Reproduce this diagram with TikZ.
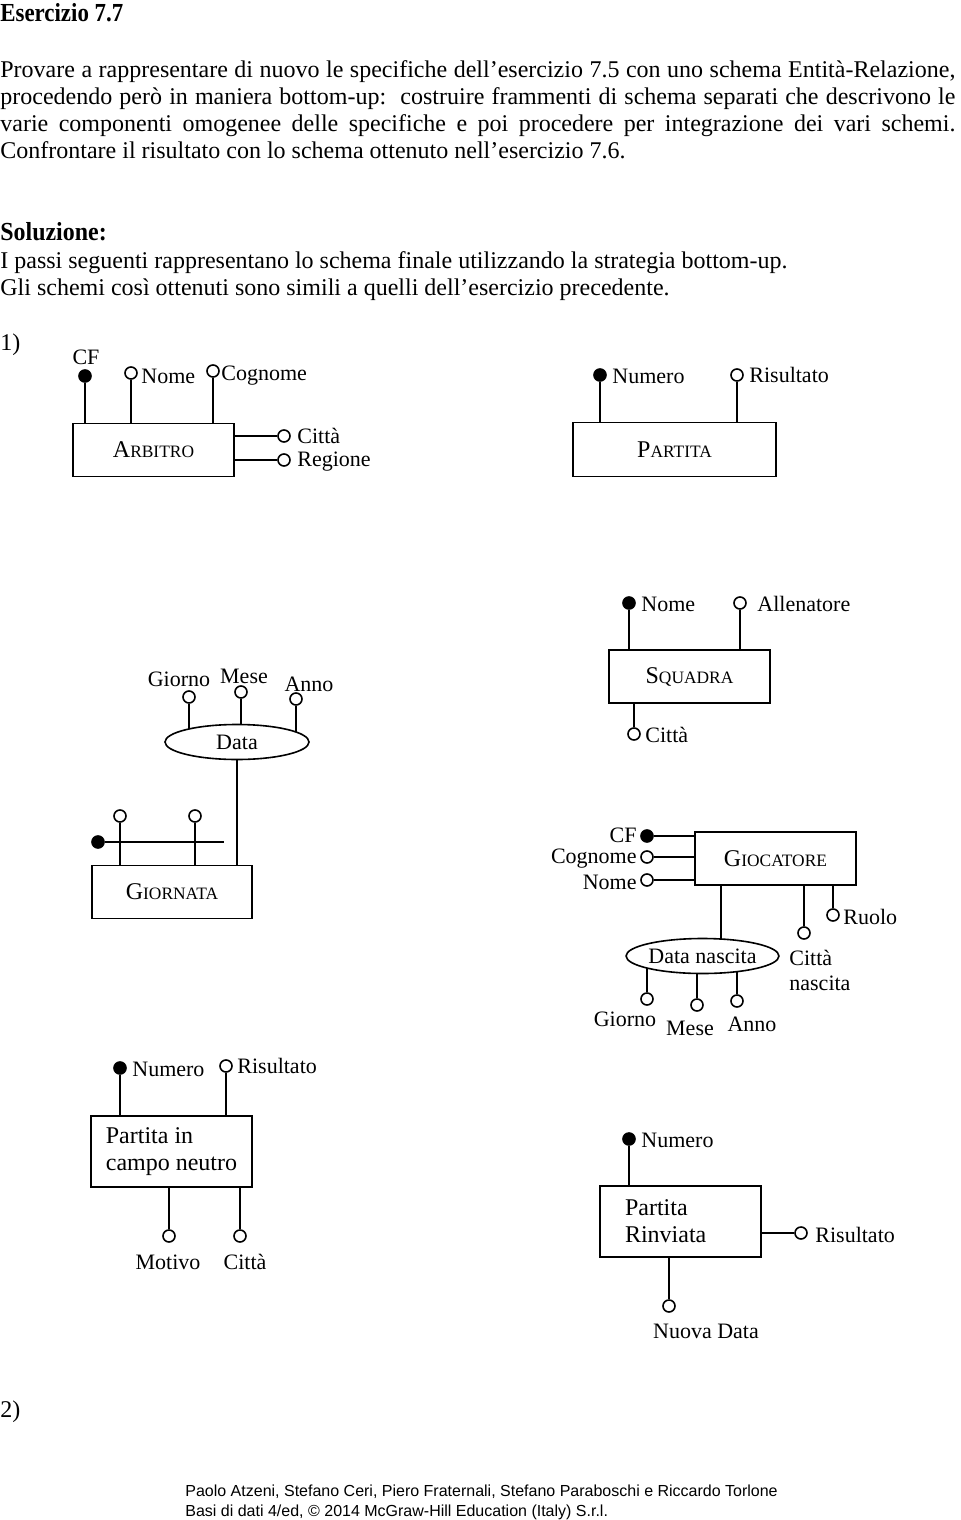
\documentclass[tikz,border=0pt]{standalone}
\usepackage{fontspec}
\setmainfont{Liberation Serif}
\setsansfont{Liberation Sans}
\usetikzlibrary{backgrounds, shapes.geometric}

\newcommand{\ent}[2]{{\fontsize{12}{14}\selectfont #1}{\fontsize{8.7}{10}\selectfont #2}}

\tikzset{
  entity/.style={draw, line width=0.8pt, fill=white, minimum width=80.5pt, minimum height=26.5pt, inner sep=0pt},
  composto/.style={ellipse, draw, line width=0.8pt, fill=white, minimum height=17.5pt, inner sep=0pt},
  attr/.style={circle, draw, line width=0.8pt, fill=white, minimum size=6pt, inner sep=0pt},
  key/.style={attr, fill=black},
  lbl/.style={inner sep=0pt},
  link/.style={line width=0.8pt},
  txt/.style={inner sep=0pt, font=\fontsize{12}{13.5}\selectfont},
}

\begin{document}
\begin{tikzpicture}[x=0.5pt, y=-0.5pt, font=\fontsize{11}{13.5}\selectfont]
  \begin{pgfonlayer}{background}
    \fill[white] (0,0) rectangle (960,1520);
  \end{pgfonlayer}
  \useasboundingbox (0,0) rectangle (960,1520);

  \node[txt, anchor=base west, font=\fontsize{13}{15}\bfseries\addfontfeatures{FakeStretch=0.88}] (titolo) at (0,22) {Esercizio 7.7};
  \node[txt, anchor=north west, text width=477.5pt, align=justify] (consegna) at (0,60)
    {Provare a rappresentare di nuovo le specifiche dell'esercizio 7.5 con uno schema Entità-Relazione,\linebreak
     procedendo però in maniera bottom-up:\ \ costruire frammenti di schema separati che descrivono le\linebreak
     varie componenti omogenee delle specifiche e poi procedere per integrazione dei vari schemi.\linebreak
     Confrontare il risultato con lo schema ottenuto nell'esercizio 7.6.};
  \node[txt, anchor=base west, font=\fontsize{13}{15}\bfseries\addfontfeatures{FakeStretch=0.92}] (soluzione) at (0,240) {Soluzione:};
  \node[txt, anchor=base west] (passi1) at (0,268) {I passi seguenti rappresentano lo schema finale utilizzando la strategia bottom-up.};
  \node[txt, anchor=base west] (passi2) at (0,295) {Gli schemi così ottenuti sono simili a quelli dell'esercizio precedente.};
  \node[txt, anchor=base west] (passo1) at (0,350) {1)};

  % arbitro
  \node[entity] (arbitro) at (153.5,450) {\ent{A}{RBITRO}};
  \node[key] (a_cf) at (85,376) {};
  \node[lbl] (a_cf_l) at (86,357) {CF};
  \node[attr] (a_nome) at (131,373) {};
  \node[lbl, anchor=west] (a_nome_l) at (141,376) {Nome};
  \node[attr] (a_cogn) at (213,371) {};
  \node[lbl, anchor=west] (a_cogn_l) at (221,376) {Cognome};
  \node[attr] (a_citta) at (284,436) {};
  \node[lbl, anchor=west] (a_citta_l) at (297,436) {Città};
  \node[attr] (a_reg) at (284,460) {};
  \node[lbl, anchor=west] (a_reg_l) at (297,462) {Regione};
  \foreach \a in {a_cf, a_nome, a_cogn}
    \draw[link] (\a) -- (\a |- arbitro.north);
  \foreach \a in {a_citta, a_reg}
    \draw[link] (\a) -- (\a -| arbitro.east);

  % partita
  \node[entity, minimum width=101.5pt, minimum height=27pt] (partita) at (674.5,449.5) {\ent{P}{ARTITA}};
  \node[key] (p_num) at (600,375) {};
  \node[lbl, anchor=west] (p_num_l) at (612,376) {Numero};
  \node[attr] (p_ris) at (737,375) {};
  \node[lbl, anchor=west] (p_ris_l) at (749,375) {Risultato};
  \foreach \a in {p_num, p_ris}
    \draw[link] (\a) -- (\a |- partita.north);

  % squadra
  \node[entity] (squadra) at (689.5,676.5) {\ent{S}{QUADRA}};
  \node[key] (s_nome) at (629,603) {};
  \node[lbl, anchor=west] (s_nome_l) at (641,604) {Nome};
  \node[attr] (s_all) at (740,603) {};
  \node[lbl, anchor=west] (s_all_l) at (757,604) {Allenatore};
  \node[attr] (s_citta) at (634,734) {};
  \node[lbl, anchor=west] (s_citta_l) at (645,735) {Città};
  \foreach \a in {s_nome, s_all}
    \draw[link] (\a) -- (\a |- squadra.north);
  \draw[link] (s_citta) -- (s_citta |- squadra.south);

  % data e giornata
  \node[entity, minimum width=80pt] (giornata) at (172,892) {\ent{G}{IORNATA}};
  \node[composto, minimum width=72pt] (data) at (237,742) {Data};
  \node[attr] (d_g) at (189,697) {};
  \node[lbl] (d_g_l) at (179,679) {Giorno};
  \node[attr] (d_m) at (241,692) {};
  \node[lbl] (d_m_l) at (244,676) {Mese};
  \node[attr] (d_a) at (296,699) {};
  \node[lbl] (d_a_l) at (309,684) {Anno};
  \begin{pgfonlayer}{background}
    \foreach \a in {d_g, d_m, d_a}
      \draw[link] (\a) -- (\a |- data.center);
  \end{pgfonlayer}
  \draw[link] (data) -- (data |- giornata.north);

  \node[attr] (g_a1) at (120,816) {};
  \node[attr] (g_a2) at (195,816) {};
  \node[key] (g_id) at (98,842) {};
  \coordinate (g_idfine) at (224,842);
  \draw[link] (g_id) -- (g_idfine);
  \foreach \a in {g_a1, g_a2}
    \draw[link] (\a) -- (\a |- giornata.north);

  % giocatore
  \node[entity] (giocatore) at (775.5,858.5) {\ent{G}{IOCATORE}};
  \node[key] (gc_cf) at (647,836) {};
  \node[lbl, anchor=east] (gc_cf_l) at (637,835) {CF};
  \node[attr] (gc_cog) at (647,857) {};
  \node[lbl, anchor=east] (gc_cog_l) at (637,859) {Cognome};
  \node[attr] (gc_nome) at (647,880) {};
  \node[lbl, anchor=east] (gc_nome_l) at (637,882) {Nome};
  \foreach \a in {gc_cf, gc_cog, gc_nome}
    \draw[link] (\a) -- (\a -| giocatore.west);

  \node[composto, minimum width=70.5pt] (dnascita) at (702.5,956) {Data nascita};
  \coordinate (gc_dn) at (721,885);
  \node[attr] (gc_cn) at (804,933) {};
  \node[lbl, anchor=north west, align=left, font=\fontsize{11}{12.5}\selectfont] (gc_cn_l) at (789,950) {Città\\nascita};
  \node[attr] (gc_ruolo) at (833,915) {};
  \node[lbl, anchor=west] (gc_ruolo_l) at (843,917) {Ruolo};
  \foreach \a in {gc_cn, gc_ruolo}
    \draw[link] (\a) -- (\a |- giocatore.south);

  \node[attr] (dn_g) at (647,999) {};
  \node[lbl] (dn_g_l) at (625,1019) {Giorno};
  \node[attr] (dn_m) at (697,1005) {};
  \node[lbl] (dn_m_l) at (690,1028) {Mese};
  \node[attr] (dn_a) at (737,1001) {};
  \node[lbl] (dn_a_l) at (752,1024) {Anno};
  \begin{pgfonlayer}{background}
    \draw[link] (gc_dn) -- (gc_dn |- dnascita.center);
    \foreach \a in {dn_g, dn_m, dn_a}
      \draw[link] (\a) -- (\a |- dnascita.center);
  \end{pgfonlayer}

  % partita in campo neutro
  \node[entity, minimum height=35.5pt, align=left, font=\fontsize{12}{13.5}\selectfont] (neutro) at (171.5,1151.5) {Partita in\\campo neutro};
  \node[key] (pn_num) at (120,1068) {};
  \node[lbl, anchor=west] (pn_num_l) at (132,1069) {Numero};
  \node[attr] (pn_ris) at (226,1066) {};
  \node[lbl, anchor=west] (pn_ris_l) at (237,1066) {Risultato};
  \node[attr] (pn_mot) at (169,1236) {};
  \node[lbl] (pn_mot_l) at (168,1262) {Motivo};
  \node[attr] (pn_citta) at (240,1236) {};
  \node[lbl] (pn_citta_l) at (245,1262) {Città};
  \foreach \a in {pn_num, pn_ris}
    \draw[link] (\a) -- (\a |- neutro.north);
  \foreach \a in {pn_mot, pn_citta}
    \draw[link] (\a) -- (\a |- neutro.south);

  % partita rinviata
  \node[entity, minimum height=35.5pt, text width=55.5pt, inner xsep=8pt, align=left, font=\fontsize{12}{13.5}\selectfont] (rinviata) at (680.5,1221.5) {Partita\\Rinviata};
  \node[key] (pr_num) at (629,1139) {};
  \node[lbl, anchor=west] (pr_num_l) at (641,1140) {Numero};
  \node[attr] (pr_ris) at (801,1233) {};
  \node[lbl, anchor=west] (pr_ris_l) at (815,1235) {Risultato};
  \node[attr] (pr_nd) at (669,1306) {};
  \node[lbl] (pr_nd_l) at (706,1331) {Nuova Data};
  \draw[link] (pr_num) -- (pr_num |- rinviata.north);
  \draw[link] (pr_ris) -- (pr_ris -| rinviata.east);
  \draw[link] (pr_nd) -- (pr_nd |- rinviata.south);

  \node[txt, anchor=base west] (passo2) at (0,1417) {2)};

  \node[txt, anchor=base west, font=\sffamily\fontsize{8}{10}\selectfont] (autori) at (185,1496) {Paolo Atzeni, Stefano Ceri, Piero Fraternali, Stefano Paraboschi e Riccardo Torlone};
  \node[txt, anchor=base west, font=\sffamily\fontsize{8}{10}\selectfont] (editore) at (185,1516) {Basi di dati 4/ed, © 2014 McGraw-Hill Education (Italy) S.r.l.};
\end{tikzpicture}
\end{document}
